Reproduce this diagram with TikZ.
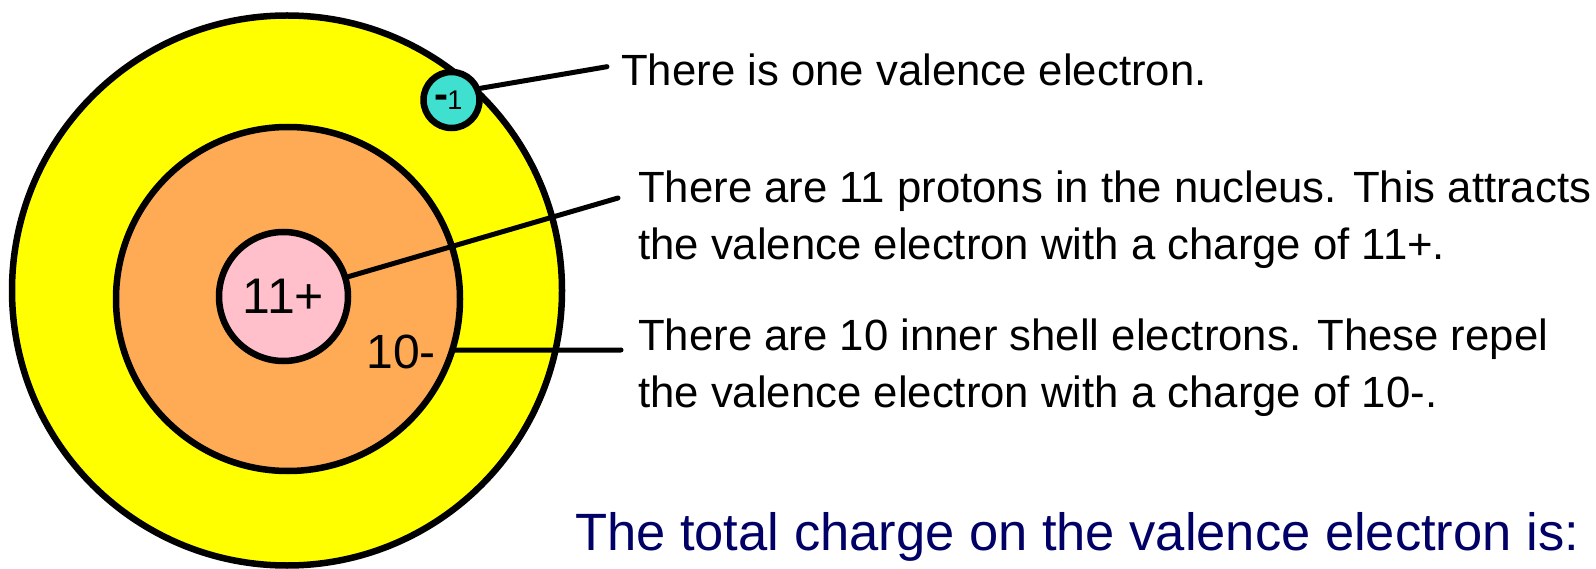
\documentclass[tikz,border=0pt]{standalone}
\usepackage{fontspec}
\setmainfont{Liberation Sans}
\definecolor{shellyellow}{RGB}{255,255,0}
\definecolor{shellorange}{RGB}{255,170,85}
\definecolor{nucpink}{RGB}{255,192,203}
\definecolor{eturq}{RGB}{64,224,208}
\definecolor{navytext}{RGB}{0,0,102}
\begin{document}
\begin{tikzpicture}[x=1pt,y=-1pt,
  shell/.style={circle, draw=black, line width=6.5pt, inner sep=0pt},
  conn/.style={line width=5pt, line cap=round},
  info/.style={anchor=base west, inner sep=0pt, font=\fontsize{43.7}{43.7}\selectfont},
  charge/.style={inner sep=0pt, font=\fontsize{48}{48}\selectfont},
]
\useasboundingbox (0,0) rectangle (1596,569);
\node[shell, fill=shellyellow, minimum size=550pt] (outer) at (287,290.5) {};
\node[shell, fill=shellorange, minimum size=344pt] (inner) at (288,299) {};
\node[shell, fill=nucpink, minimum size=129pt, font=\fontsize{50}{50}\selectfont] (nuc) at (283.5,296.5) {11+};
\node[charge] (ten) at (401,352) {10-};
\node[shell, fill=eturq, minimum size=56pt] (el) at (451.5,100) {\raisebox{1pt}{\fontsize{42}{42}\selectfont\bfseries -}\hspace{-1pt}{\fontsize{27}{27}\selectfont 1}\hspace*{6pt}};
\coordinate (c1) at (607,66.7);
\coordinate (c2) at (618,198);
\coordinate (c3) at (621,350);
\draw[conn] (el.22) -- (c1);
\draw[conn] (nuc.17) -- (c2);
\draw[conn] (inner.-17) -- (c3);
\node[info] (t1) at (621,85.5) {There is one valence electron.};
\node[info] (t2) at (638,203) {There are 11 protons in the nucleus. This attracts};
\node[info] (t3) at (638,260) {the valence electron with a charge of 11+.};
\node[info] (t4) at (638,350) {There are 10 inner shell electrons. These repel};
\node[info] (t5) at (638,407) {the valence electron with a charge of 10-.};
\node[info, font=\fontsize{52.5}{52.5}\selectfont, text=navytext] (total) at (575,550) {The total charge on the valence electron is:};
\end{tikzpicture}
\end{document}
